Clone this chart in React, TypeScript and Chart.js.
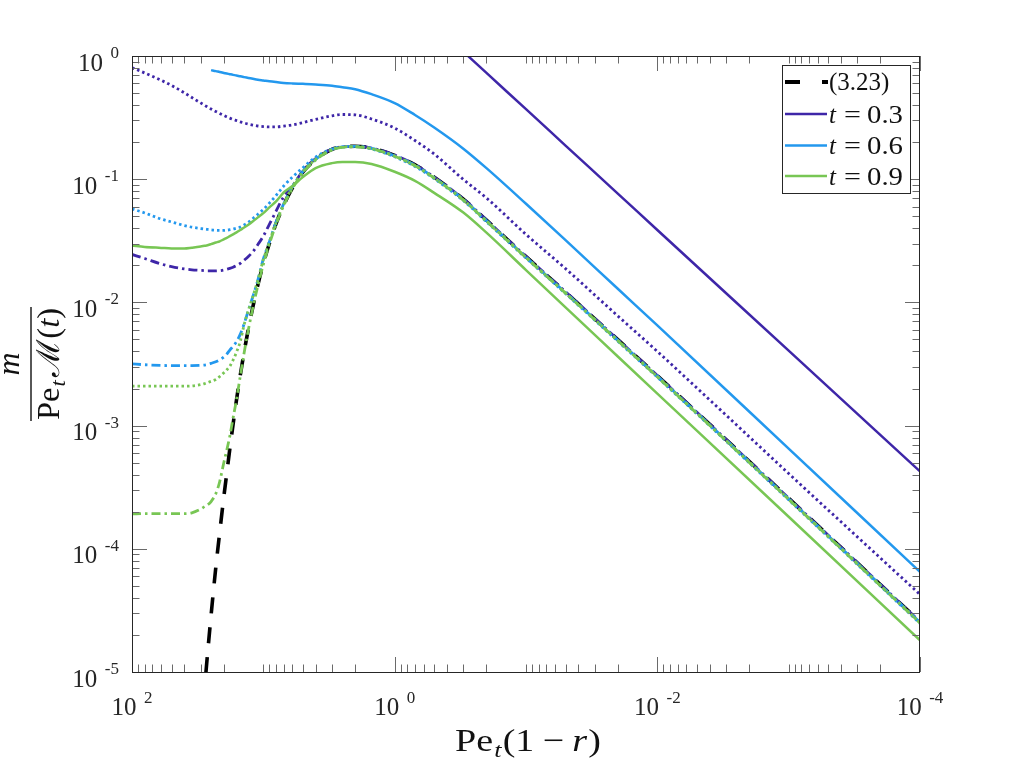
import React, { useEffect, useRef } from "react";
import { Chart, registerables } from "chart.js";

Chart.register(...registerables);

// ---------------- data ----------------
const X = [100, 80, 60, 50, 40, 35, 30, 28, 27, 25, 23, 21.5, 20, 19, 18, 17, 16, 15, 14, 13, 12, 11, 10, 9, 8, 7, 6, 5, 4, 3, 2.5, 2, 1.5, 1, 0.7, 0.5, 0.3, 0.2, 0.1, 0.05, 0.02, 0.01, 0.001, 0.0001];

const EQ_323 = [null, null, null, null, null, null, null, 7.4e-6, 1.17e-5, 2.88e-5, 7.08e-5, 1.35e-4, 2.63e-4, 4.07e-4, 6.46e-4, 1.02e-3, 1.62e-3, 2.55e-3, 3.96e-3, 6.1e-3, 9.25e-3, 0.0139, 0.0206, 0.0301, 0.0435, 0.0615, 0.0851, 0.114, 0.1445, 0.1746, 0.182, 0.185, 0.179, 0.156, 0.131, 0.104, 0.069, 0.0465, 0.0235, 0.0121, 0.00498, 0.00254, 0.000257, 2.55e-5];

const T03_SOLID = [null, null, null, null, null, null, null, null, null, null, null, null, null, null, null, null, null, null, null, null, null, null, null, null, null, null, null, null, null, null, null, null, null, 3.5, 2.49, 1.79, 1.085, 0.729, 0.37, 0.1875, 0.0764, 0.0387, 0.00406, 0.000425];
const T03_DOTTED = [0.804, 0.728, 0.635, 0.577, 0.503, 0.46, 0.416, 0.398, 0.389, 0.371, 0.354, 0.3414, 0.329, 0.321, 0.313, 0.3057, 0.299, 0.292, 0.286, 0.28, 0.275, 0.2703, 0.2673, 0.2657, 0.2659, 0.27, 0.276, 0.288, 0.306, 0.327, 0.335, 0.333, 0.308, 0.26, 0.206, 0.16, 0.0995, 0.0704, 0.0356, 0.0188, 0.00776, 0.004, 0.000408, 4.26e-5];
const T03_DASHDOT = [0.0245, 0.0227, 0.0205, 0.0195, 0.0187, 0.0184, 0.0182, 0.0181, 0.018, 0.018, 0.018, 0.0181, 0.0183, 0.0186, 0.0189, 0.0193, 0.0199, 0.0207, 0.022, 0.0236, 0.0258, 0.0295, 0.0345, 0.043, 0.055, 0.072, 0.088, 0.117, 0.147, 0.176, 0.183, 0.185, 0.179, 0.157, 0.131, 0.104, 0.0692, 0.0466, 0.0236, 0.0122, 0.005, 0.00255, 0.000258, 2.56e-5];

const T06_SOLID = [null, null, null, null, null, null, null, null, null, 0.768, 0.754, 0.741, 0.729, 0.721, 0.712, 0.703, 0.695, 0.684, 0.674, 0.664, 0.653, 0.642, 0.633, 0.623, 0.614, 0.605, 0.599, 0.594, 0.587, 0.574, 0.558, 0.538, 0.49, 0.415, 0.332, 0.263, 0.177, 0.123, 0.0632, 0.032, 0.0129, 0.0065, 0.00065, 6.5e-5];
const T06_DOTTED = [0.0575, 0.0532, 0.0475, 0.045, 0.0421, 0.0408, 0.0398, 0.0394, 0.0392, 0.0388, 0.0385, 0.0384, 0.0384, 0.0386, 0.0389, 0.0394, 0.0401, 0.0409, 0.0425, 0.0447, 0.048, 0.052, 0.0568, 0.064, 0.0737, 0.088, 0.104, 0.124, 0.151, 0.176, 0.183, 0.185, 0.176, 0.152, 0.127, 0.101, 0.067, 0.0451, 0.0229, 0.0118, 0.00484, 0.00247, 0.00025, 2.48e-5];
const T06_DASHDOT = [0.00317, 0.00312, 0.00308, 0.00307, 0.00307, 0.00307, 0.00308, 0.0031, 0.00312, 0.0032, 0.0033, 0.00342, 0.0036, 0.0038, 0.0041, 0.0044, 0.0048, 0.0055, 0.0067, 0.0086, 0.0112, 0.0152, 0.0225, 0.031, 0.045, 0.063, 0.087, 0.115, 0.145, 0.175, 0.183, 0.185, 0.178, 0.155, 0.13, 0.103, 0.0685, 0.0461, 0.0233, 0.012, 0.00494, 0.00252, 0.000255, 2.53e-5];

const T09_SOLID = [0.029, 0.0282, 0.0277, 0.0274, 0.0274, 0.0278, 0.0284, 0.0288, 0.029, 0.0297, 0.0306, 0.0313, 0.0325, 0.0334, 0.0345, 0.0357, 0.037, 0.0387, 0.0405, 0.0427, 0.0455, 0.049, 0.053, 0.059, 0.066, 0.078, 0.088, 0.104, 0.123, 0.135, 0.138, 0.138, 0.133, 0.115, 0.097, 0.0775, 0.0536, 0.0368, 0.0183, 0.0091, 0.00364, 0.00182, 0.000182, 1.81e-5];
const T09_DOTTED = [0.00209, 0.00209, 0.00209, 0.00209, 0.00209, 0.0021, 0.00215, 0.00219, 0.00222, 0.00229, 0.00237, 0.0025, 0.00268, 0.00283, 0.00303, 0.0034, 0.00395, 0.0048, 0.0066, 0.0086, 0.0112, 0.0152, 0.0222, 0.0308, 0.0445, 0.0625, 0.0865, 0.1145, 0.1445, 0.174, 0.182, 0.184, 0.177, 0.154, 0.129, 0.1025, 0.068, 0.0458, 0.0232, 0.0119, 0.00491, 0.0025, 0.000253, 2.51e-5];
const T09_DASHDOT = [0.000192, 0.000193, 0.000193, 0.000193, 0.000193, 0.000196, 0.00021, 0.00022, 0.000225, 0.000242, 0.00028, 0.00035, 0.0005, 0.00063, 0.00082, 0.00115, 0.00163, 0.0025, 0.0039, 0.006, 0.0091, 0.0137, 0.0203, 0.0297, 0.043, 0.061, 0.084, 0.113, 0.143, 0.173, 0.181, 0.183, 0.177, 0.1535, 0.1285, 0.102, 0.0677, 0.0456, 0.0231, 0.0119, 0.00489, 0.00249, 0.000252, 2.5e-5];

const X_LABEL_EXPONENTS = [2, 0, -2, -4];
const Y_LABEL_EXPONENTS = [0, -1, -2, -3, -4, -5];
const LEGEND_TEXT = ["(3.23)", "0.3", "0.6", "0.9"];

// ---------------- styling ----------------
const PURPLE = "rgb(62,38,168)";
const BLUE = "rgb(35,152,238)";
const GREEN = "rgb(120,198,84)";
const INK = "#262626";
const SERIF = '"Liberation Serif", "Times New Roman", "DejaVu Serif", serif';

const SOLID: number[] = [];
const DOT = [2.5, 3];
const DASHDOT = [9, 4, 2.5, 4];
const DASH = [16, 14];

type Seg = { t: string; size: number; italic?: boolean; dy?: number; gap?: number };

function segsWidth(ctx: CanvasRenderingContext2D, segs: Seg[]) {
  let w = 0;
  for (const s of segs) {
    ctx.font = `${s.italic ? "italic " : ""}${s.size}px ${SERIF}`;
    w += (s.gap || 0) + ctx.measureText(s.t).width;
  }
  return w;
}

function drawSegs(ctx: CanvasRenderingContext2D, segs: Seg[], cx: number, y: number, target: number) {
  const w = segsWidth(ctx, segs);
  const sx = target / w;
  let x = cx - target / 2;
  for (const s of segs) {
    ctx.font = `${s.italic ? "italic " : ""}${s.size}px ${SERIF}`;
    x += (s.gap || 0) * sx;
    ctx.save();
    ctx.translate(x, y + (s.dy || 0));
    ctx.scale(sx, 1);
    ctx.fillText(s.t, 0, 0);
    ctx.restore();
    x += ctx.measureText(s.t).width * sx;
  }
}

function drawPow(ctx: CanvasRenderingContext2D, exp: number, x: number, baseY: number, align: "center" | "right") {
  const base = "10";
  const sup = String(exp);
  ctx.font = `25px ${SERIF}`;
  const wb = ctx.measureText(base).width;
  ctx.font = `17px ${SERIF}`;
  const ws = ctx.measureText(sup).width;
  const gap = 7.5;
  const total = wb + gap + ws;
  const x0 = align === "center" ? x - total / 2 : x - total;
  ctx.textAlign = "left";
  ctx.textBaseline = "alphabetic";
  ctx.font = `25px ${SERIF}`;
  ctx.fillText(base, x0, baseY);
  ctx.font = `17px ${SERIF}`;
  ctx.fillText(sup, x0 + wb + gap, baseY - 12.5);
}

const matlabAxes = {
  id: "matlabAxes",
  beforeDraw(chart: any) {
    const ctx = chart.ctx;
    ctx.save();
    ctx.fillStyle = "#ffffff";
    ctx.fillRect(0, 0, chart.width, chart.height);
    ctx.restore();
  },
  afterDatasetsDraw(chart: any) {
    const ctx: CanvasRenderingContext2D = chart.ctx;
    const { left, right, top, bottom } = chart.chartArea;
    const xs = chart.scales.x;
    const ys = chart.scales.y;
    ctx.save();

    // ticks (inside, all four sides)
    ctx.lineWidth = 1;
    ctx.strokeStyle = "#6a6a6a";
    const line = (x1: number, y1: number, x2: number, y2: number) => {
      ctx.beginPath();
      ctx.moveTo(x1, y1);
      ctx.lineTo(x2, y2);
      ctx.stroke();
    };
    for (let e = -4; e <= 2; e++) {
      for (let m = 1; m <= 9; m++) {
        if (e === 2 && m > 1) continue;
        const v = m * Math.pow(10, e);
        const major = m === 1 && e % 2 === 0;
        const L = major ? 15 : 7.5;
        const px = Math.round(xs.getPixelForValue(v)) + 0.5;
        line(px, bottom, px, bottom - L);
        line(px, top, px, top + L);
      }
    }
    for (let e = -5; e <= 0; e++) {
      for (let m = 1; m <= 9; m++) {
        if (e === 0 && m > 1) continue;
        const v = m * Math.pow(10, e);
        const major = m === 1;
        const L = major ? 15 : 7.5;
        const py = Math.round(ys.getPixelForValue(v)) + 0.5;
        line(left, py, left + L, py);
        line(right, py, right - L, py);
      }
    }

    // box
    ctx.strokeStyle = INK;
    ctx.lineWidth = 1;
    ctx.strokeRect(left + 0.5, top + 0.5, right - left - 1, bottom - top);

    // tick labels
    ctx.fillStyle = INK;
    for (const e of X_LABEL_EXPONENTS) {
      const px = xs.getPixelForValue(Math.pow(10, e));
      drawPow(ctx, e, px, bottom + 43, "center");
    }
    for (const e of Y_LABEL_EXPONENTS) {
      const py = ys.getPixelForValue(Math.pow(10, e));
      drawPow(ctx, e, left - 13, py + 14.5, "right");
    }

    // x-axis title: Pe_t(1 - r)
    ctx.fillStyle = "#111";
    ctx.textAlign = "left";
    ctx.textBaseline = "alphabetic";
    drawSegs(
      ctx,
      [
        { t: "Pe", size: 32 },
        { t: "t", size: 22, italic: true, dy: 6, gap: 1 },
        { t: "(1", size: 32, gap: 1 },
        { t: "\u2212", size: 32, gap: 7 },
        { t: "r", size: 32, italic: true, gap: 7 },
        { t: ")", size: 32, gap: 1 },
      ],
      (left + right) / 2 + 2,
      751,
      146
    );

    // y-axis title: m / (Pe_t M(t)) rotated
    const cy = (top + bottom) / 2;
    ctx.save();
    ctx.translate(31, cy);
    ctx.rotate(-Math.PI / 2);
    ctx.font = `italic 32px ${SERIF}`;
    ctx.textAlign = "center";
    ctx.fillText("m", 0, -12);
    ctx.textAlign = "left";
    ctx.fillRect(-57, -0.7, 114, 1.4);
    drawSegs(
      ctx,
      [
        { t: "Pe", size: 32 },
        { t: "t", size: 22, italic: true, dy: 6, gap: 1 },
        { t: "\u2133", size: 32, gap: 3 },
        { t: "(", size: 32, gap: 1 },
        { t: "t", size: 32, italic: true },
        { t: ")", size: 32 },
      ],
      0,
      28,
      112
    );
    ctx.restore();

    ctx.restore();
  },
  afterDraw(chart: any) {
    const ctx: CanvasRenderingContext2D = chart.ctx;
    ctx.save();
    // legend box
    const bx = 782, by = 65, bw = 128, bh = 128;
    ctx.fillStyle = "#ffffff";
    ctx.fillRect(bx, by, bw, bh);
    ctx.strokeStyle = INK;
    ctx.lineWidth = 1;
    ctx.strokeRect(bx + 0.5, by + 0.5, bw, bh);

    const rows = [82, 114, 145.5, 176];
    const colors = ["#000", PURPLE, BLUE, GREEN];
    ctx.lineCap = "butt";
    rows.forEach((y, i) => {
      ctx.strokeStyle = colors[i];
      if (i === 0) {
        ctx.lineWidth = 3.8;
        ctx.beginPath();
        ctx.moveTo(785, y);
        ctx.lineTo(800, y);
        ctx.moveTo(822, y);
        ctx.lineTo(828, y);
        ctx.stroke();
      } else {
        ctx.lineWidth = 2.5;
        ctx.beginPath();
        ctx.moveTo(785, y);
        ctx.lineTo(827, y);
        ctx.stroke();
      }
      ctx.fillStyle = "#111";
      ctx.textAlign = "left";
      ctx.textBaseline = "alphabetic";
      if (i === 0) {
        ctx.font = `25px ${SERIF}`;
        ctx.fillText(LEGEND_TEXT[0], 829, y + 7.5);
      } else {
        ctx.font = `italic 25px ${SERIF}`;
        ctx.fillText("t", 829, y + 8.5);
        ctx.font = `25px ${SERIF}`;
        ctx.save();
        ctx.translate(844, y + 8.5);
        ctx.scale(1.2, 1);
        ctx.fillText("=", 0, 0);
        ctx.restore();
        ctx.save();
        ctx.translate(867, y + 8.5);
        ctx.scale(1.15, 1);
        ctx.fillText(LEGEND_TEXT[i], 0, 0);
        ctx.restore();
      }
    });
    ctx.restore();
  },
};

function pts(ys: (number | null)[]) {
  return X.map((x, i) => ({ x, y: ys[i] })).filter((p) => p.y !== null) as { x: number; y: number }[];
}

const SERIES = [
  { label: "(3.23)", values: EQ_323, color: "#000000", width: 3.6, dash: DASH, dashOffset: 15, order: 10 },
  { label: "t = 0.3", values: T03_SOLID, color: PURPLE, width: 2.5, dash: SOLID, dashOffset: 0, order: 9 },
  { label: "t = 0.3 dotted", values: T03_DOTTED, color: PURPLE, width: 2.8, dash: DOT, dashOffset: 0, order: 8 },
  { label: "t = 0.3 dash-dot", values: T03_DASHDOT, color: PURPLE, width: 2.8, dash: DASHDOT, dashOffset: 0, order: 7 },
  { label: "t = 0.6", values: T06_SOLID, color: BLUE, width: 2.5, dash: SOLID, dashOffset: 0, order: 6 },
  { label: "t = 0.6 dotted", values: T06_DOTTED, color: BLUE, width: 2.8, dash: DOT, dashOffset: 0, order: 5 },
  { label: "t = 0.6 dash-dot", values: T06_DASHDOT, color: BLUE, width: 2.8, dash: DASHDOT, dashOffset: 0, order: 4 },
  { label: "t = 0.9", values: T09_SOLID, color: GREEN, width: 2.5, dash: SOLID, dashOffset: 0, order: 3 },
  { label: "t = 0.9 dotted", values: T09_DOTTED, color: GREEN, width: 2.8, dash: DOT, dashOffset: 0, order: 2 },
  { label: "t = 0.9 dash-dot", values: T09_DASHDOT, color: GREEN, width: 2.8, dash: DASHDOT, dashOffset: 0, order: 1 },
];

export default function App() {
  const ref = useRef<HTMLCanvasElement | null>(null);

  useEffect(() => {
    if (!ref.current) return;
    const chart = new Chart(ref.current, {
      type: "line",
      data: {
        datasets: SERIES.map((s) => ({
          label: s.label,
          data: pts(s.values),
          borderColor: s.color,
          backgroundColor: s.color,
          borderWidth: s.width,
          borderDash: s.dash,
          borderDashOffset: s.dashOffset,
          borderCapStyle: "butt",
          borderJoinStyle: "round",
          pointRadius: 0,
          fill: false,
          cubicInterpolationMode: "monotone",
          order: s.order,
        })),
      },
      options: {
        responsive: false,
        animation: false,
        events: [],
        layout: { padding: { left: 132, right: 97, top: 56, bottom: 89 } },
        plugins: {
          legend: { display: false },
          tooltip: { enabled: false },
          title: { display: false },
        },
        scales: {
          x: { type: "logarithmic", min: 1e-4, max: 100, reverse: true, display: false },
          y: { type: "logarithmic", min: 1e-5, max: 1, display: false },
        },
      },
      plugins: [matlabAxes],
    } as any);
    return () => chart.destroy();
  }, []);

  return (
    <div style={{ position: "absolute", left: 0, top: 0, width: 1017, height: 761, background: "#fff" }}>
      <canvas ref={ref} width={1017} height={761} style={{ width: 1017, height: 761, display: "block" }} />
    </div>
  );
}
